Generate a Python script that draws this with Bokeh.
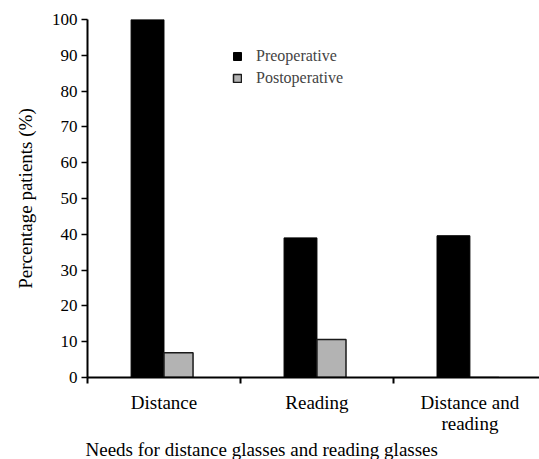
from bokeh.plotting import figure
from bokeh.models import FixedTicker, Range1d, Legend, LegendItem, ColumnDataSource, Title
from bokeh.embed import file_html
from bokeh.resources import INLINE

categories = ["Distance", "Reading", "Distance and\nreading"]
preoperative = [100, 39.0, 39.6]
postoperative = [6.9, 10.6, 0]
y_ticks = [0, 10, 20, 30, 40, 50, 60, 70, 80, 90, 100]
x_title = "Needs for distance glasses and reading glasses"
y_title = "Percentage patients (%)"

FONT = "Liberation Serif, serif"
n = len(categories)
centers = [i + 0.5 for i in range(n)]
pre_w, post_w = 0.215, 0.19

p = figure(frame_width=452, frame_height=358, output_backend="svg", toolbar_location=None,
           x_range=Range1d(0, 2.955), y_range=Range1d(0, 100),
           min_border_left=87, min_border_right=0, min_border_top=19, min_border_bottom=0)
p.outline_line_color = None
p.grid.visible = False
p.background_fill_color = "white"

src_pre = ColumnDataSource(dict(x=[c - pre_w / 2 for c in centers], top=preoperative))
src_post = ColumnDataSource(dict(x=[c + post_w / 2 for c in centers], top=postoperative))
r_pre = p.vbar(x="x", top="top", width=pre_w, source=src_pre,
               fill_color="black", line_color="black", line_width=1)
r_post = p.vbar(x="x", top="top", width=post_w, source=src_post,
                fill_color="#b3b3b3", line_color="#1a1a1a", line_width=1.5)

# x axis
xa = p.xaxis[0]
xa.ticker = FixedTicker(ticks=centers, minor_ticks=list(range(n + 1)))
xa.major_label_overrides = {c: lab for c, lab in zip(centers, categories)}
xa.major_tick_out = 0
xa.major_tick_in = 0
xa.minor_tick_out = 6
xa.minor_tick_in = 0
xa.minor_tick_line_color = "black"
xa.minor_tick_line_width = 2
xa.axis_line_width = 2
xa.axis_line_color = "black"
xa.major_label_text_font = FONT
xa.major_label_text_font_size = "19px"
xa.major_label_text_color = "black"
xa.major_label_text_line_height = 1.0
xa.major_label_standoff = 8

xt = Title(text=x_title, align="left", offset=-2, standoff=0,
           text_font=FONT, text_font_size="19px", text_font_style="normal",
           text_color="black")
p.add_layout(xt, "below")

# y axis
ya = p.yaxis[0]
ya.ticker = FixedTicker(ticks=y_ticks, minor_ticks=[])
ya.major_tick_out = 6
ya.major_tick_in = 0
ya.major_tick_line_width = 1.5
ya.axis_line_width = 2
ya.axis_line_color = "black"
ya.major_label_text_font = FONT
ya.major_label_text_font_size = "17px"
ya.major_label_text_color = "black"
ya.major_label_standoff = 4
ya.axis_label = y_title
ya.axis_label_text_font = FONT
ya.axis_label_text_font_size = "19px"
ya.axis_label_text_font_style = "normal"
ya.axis_label_text_color = "black"
ya.axis_label_standoff = 13

legend = Legend(items=[LegendItem(label="Preoperative", renderers=[r_pre]),
                       LegendItem(label="Postoperative", renderers=[r_post])],
                location=(145, 290), orientation="vertical",
                border_line_color=None, background_fill_alpha=0,
                label_text_font=FONT, label_text_font_size="16px",
                glyph_width=10, glyph_height=10, label_standoff=14,
                spacing=4, padding=0, margin=0, label_height=18)
p.add_layout(legend, "center")

open("out.html", "w").write(file_html(p, INLINE))
